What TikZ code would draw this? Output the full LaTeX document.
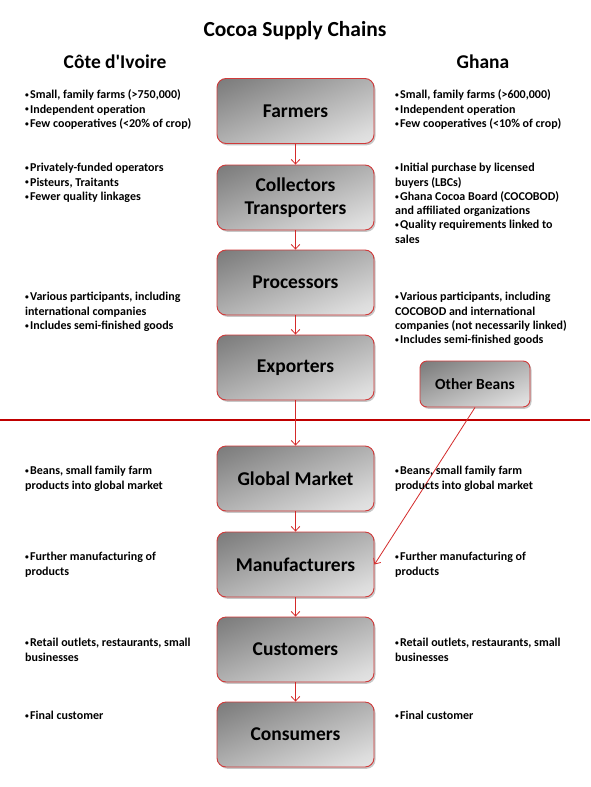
\documentclass[tikz,border=0pt]{standalone}
\usepackage{fontspec}
\setmainfont{Carlito}
\usetikzlibrary{arrows.meta,shadows}
\definecolor{boxred}{HTML}{D03A3A}
\definecolor{linered}{HTML}{C00000}
\definecolor{arrred}{HTML}{D42A2A}
\definecolor{gA}{HTML}{FAFAFA}
\definecolor{gB}{HTML}{DCDCDC}
\definecolor{gC}{HTML}{868686}
\definecolor{gD}{HTML}{606060}
\pgfdeclareverticalshading{boxshade}{100bp}{color(0bp)=(gA); color(25bp)=(gB); color(75bp)=(gC); color(100bp)=(gD)}
\newcommand\bl{{\fontsize{7.5}{7.5}\selectfont\raisebox{1.2pt}{\textbullet}}\kern1.2pt}
\tikzset{
  stagebox/.style={draw=boxred, line width=0.9pt, rounded corners=9pt,
    minimum width=157pt, minimum height=65pt, align=center,
    shading=boxshade, shading angle=22,
    drop shadow={shadow xshift=1.5pt, shadow yshift=-1.8pt, opacity=0.22, fill=black},
    font=\bfseries\fontsize{19.5}{23.5}\selectfont},
  smallbox/.style={stagebox, rounded corners=7pt, minimum width=110pt, minimum height=46pt,
    font=\bfseries\fontsize{15.5}{18}\selectfont},
  note/.style={anchor=north west, inner sep=0pt, align=left,
    font=\bfseries\fontsize{12}{14.3}\selectfont},
  flow/.style={draw=arrred, line width=0.8pt, -{Straight Barb[length=4.5pt,width=8.5pt,line width=0.8pt]}},
  heading/.style={font=\bfseries\fontsize{19.5}{23}\selectfont, inner sep=0pt},
}
\begin{document}
\begin{tikzpicture}[x=1pt,y=-1pt]
\useasboundingbox (0,0) rectangle (590,787);
\fill[white] (0,0) rectangle (590,787);

\node[heading, font=\bfseries\fontsize{21.5}{25}\selectfont] (title) at (295,31) {Cocoa Supply Chains};
\node[heading] (civ) at (115,62) {Côte d\textquotesingle Ivoire};
\node[heading] (gha) at (483,62) {Ghana};

\node[stagebox] (farm) at (295.5,111) {Farmers};
\node[stagebox] (coll) at (295.5,197.5) {Collectors\\Transporters};
\node[stagebox] (proc) at (295.5,282.5) {Processors};
\node[stagebox] (expo) at (295.5,367.5) {Exporters};
\node[stagebox] (glob) at (295.5,478.5) {Global Market};
\node[stagebox] (manu) at (295.5,564.5) {Manufacturers};
\node[stagebox] (cust) at (295.5,649.5) {Customers};
\node[stagebox] (cons) at (295.5,734.5) {Consumers};
\node[smallbox] (other) at (475,384) {Other Beans};

\draw[linered, line width=2.2pt] (0,420) coordinate (sepl) -- (590,420) coordinate (sepr);

\draw[flow] (farm) -- (coll);
\draw[flow] (coll) -- (proc);
\draw[flow] (proc) -- (expo);
\draw[flow] (expo) -- (glob);
\draw[flow] (glob) -- (manu);
\draw[flow] (manu) -- (cust);
\draw[flow] (cust) -- (cons);
\draw[flow] (other.south) -- (manu.east);

% left column
\node[note] (l1) at (25,88.5) {\strut\bl Small, family farms (>750,000)\\\bl Independent operation\\\bl Few cooperatives (<20\% of crop)};
\node[note] (l2) at (25,161.5) {\strut\bl Privately-funded operators\\\bl Pisteurs, Traitants\\\bl Fewer quality linkages};
\node[note] (l3) at (25,290.5) {\strut\bl Various participants, including\\international companies\\\bl Includes semi-finished goods};
\node[note] (l4) at (25,464.5) {\strut\bl Beans, small family farm\\products into global market};
\node[note] (l5) at (25,550.5) {\strut\bl Further manufacturing of\\products};
\node[note] (l6) at (25,636.5) {\strut\bl Retail outlets, restaurants, small\\businesses};
\node[note] (l7) at (25,709.5) {\strut\bl Final customer};

% right column
\node[note] (r1) at (395,88.5) {\strut\bl Small, family farms (>600,000)\\\bl Independent operation\\\bl Few cooperatives (<10\% of crop)};
\node[note] (r2) at (395,161.5) {\strut\bl Initial purchase by licensed\\buyers (LBCs)\\\bl Ghana Cocoa Board (COCOBOD)\\and affiliated organizations\\\bl Quality requirements linked to\\sales};
\node[note] (r3) at (395,290.5) {\strut\bl Various participants, including\\COCOBOD and international\\companies (not necessarily linked)\\\bl Includes semi-finished goods};
\node[note] (r4) at (395,464.5) {\strut\bl Beans, small family farm\\products into global market};
\node[note] (r5) at (395,550.5) {\strut\bl Further manufacturing of\\products};
\node[note] (r6) at (395,636.5) {\strut\bl Retail outlets, restaurants, small\\businesses};
\node[note] (r7) at (395,709.5) {\strut\bl Final customer};
\end{tikzpicture}
\end{document}
